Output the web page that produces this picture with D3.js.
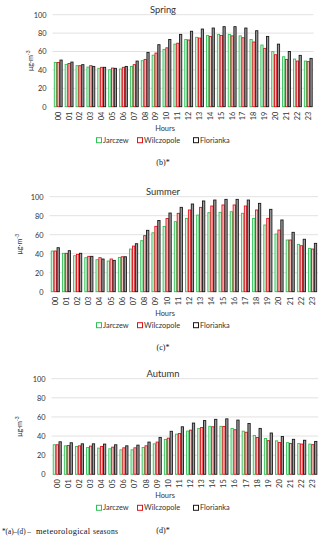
<!DOCTYPE html>
<html>
<head>
<meta charset="utf-8">
<script src="https://cdn.jsdelivr.net/npm/d3@7"></script>
<style>
  body { margin: 0; background: #fff; }
  svg { display: block; }
</style>
</head>
<body>
<svg id="chart" width="325" height="550"></svg>
<script>
var hours = ['00','01','02','03','04','05','06','07','08','09','10','11',
	'12','13','14','15','16','17','18','19','20','21','22','23'];
var stations = ['Jarczew', 'Wilczopole', 'Florianka'];
var yTicks = [0, 20, 40, 60, 80, 100];

var springJarczew    = [48,46,44.6,43,41.7,40.2,41,43.8,50,56,62.3,68,73,75.4,77.5,78.6,78.6,77,73,67,59.8,54.3,51.8,49.6];
var springWilczopole = [48,47,44.6,44.6,42.8,42,42.8,45.7,51.4,58.3,64,69,72.5,74.6,76.4,77.5,77,75,70.3,63.4,56.5,51.4,49.6,49];
var springFlorianka  = [50.7,48.5,45.7,43.8,42.8,41.7,43.8,49.6,59,67.4,73,78.6,82,84.4,85.5,87,87,85.5,82.6,76.4,68,60,55.8,52.5];

var summerJarczew    = [42.8,40.4,37.9,35.8,33.7,32.3,36.1,44.9,53.7,62,68.6,73.7,77.2,80.7,83.2,83.5,84.2,82.5,77.2,70.2,60.7,54.4,49.8,45.6];
var summerWilczopole = [42.8,40.4,39.3,37.2,35.8,34.4,36.8,48,59,68.8,77,82.5,86,88.8,90.2,91.3,91.3,90.2,86,77.2,64.9,54.4,48.4,44.9];
var summerFlorianka  = [46.3,43.2,40.4,37.2,34.4,33,36.8,50.5,64.6,75,82.8,88.8,92.3,95.5,96.5,97.2,97.2,96.5,93,86.7,75.5,62.5,55.2,50.9];

var autumnJarczew    = [30.9,29.8,29.1,28,27.4,26.7,25.6,25.6,28,31.9,36.5,42,45.2,48,50.2,50.2,48,45.1,40.7,37.4,35,33.1,32.2,31.6];
var autumnWilczopole = [30.9,30.2,29.8,29.5,29.1,28.4,27.7,27.7,29.8,33.7,37.8,42.7,46.2,49,49.7,50,46.6,44,38.5,35.2,33.2,32.2,31.6,31];
var autumnFlorianka  = [34,33,31.9,31.9,31.6,30.9,29.8,30.5,33.7,38.6,45,49.7,53.6,56.2,57.5,58,56.7,53.2,48,43.2,39.6,36.6,35.6,34.4];

var stroke = ['#2fbf55', '#e3121b', '#1a1a1a'];
var fill = ['#d2f3da', '#f7c2c2', '#9c9c9c'];

var svg = d3.select('#chart');

var panels = [
	{ title: 'Spring', series: [springJarczew, springWilczopole, springFlorianka],
	  x0: 52.6, x1: 313.5, top: 14.7, bottom: 106.7, yTitleX: 30, caption: '(b)*' },
	{ title: 'Summer', series: [summerJarczew, summerWilczopole, summerFlorianka],
	  x0: 49.5, x1: 318, top: 196.7, bottom: 291.7, yTitleX: 19, caption: '(c)*' },
	{ title: 'Autumn', series: [autumnJarczew, autumnWilczopole, autumnFlorianka],
	  x0: 51.5, x1: 318.2, top: 378.7, bottom: 474.3, yTitleX: 19, caption: '(d)*' }
];

var sans = 'Lato, "Open Sans", sans-serif';
var serif = '"Liberation Serif", "DejaVu Serif", serif';

panels.forEach(function (p) {

	var g = svg.append('g');

	var x = d3.scaleBand()
		.domain(hours)
		.range([p.x0, p.x1])
		.paddingInner(0.22)
		.paddingOuter(0.11);

	var xs = d3.scaleBand()
		.domain(d3.range(3))
		.range([0, x.bandwidth()]);

	var y = d3.scaleLinear()
		.domain([0, 100])
		.range([p.bottom, p.top]);

	// gridlines
	g.append('g')
		.selectAll('line')
		.data(yTicks.slice(1))
		.enter()
		.append('line')
		.attr('x1', p.x0)
		.attr('x2', p.x1)
		.attr('y1', function (d) { return y(d); })
		.attr('y2', function (d) { return y(d); })
		.attr('stroke', '#d9d9d9')
		.attr('stroke-width', 0.8);

	// y axis
	var yAxis = g.append('g')
		.attr('transform', 'translate(' + (p.x0 - 3) + ',0)')
		.call(d3.axisLeft(y).tickValues(yTicks).tickSize(0).tickPadding(3));
	yAxis.select('.domain').remove();
	yAxis.selectAll('text')
		.attr('font-family', sans)
		.attr('font-size', 7.4)
		.attr('fill', '#333');

	// bars
	p.series.forEach(function (values, si) {
		g.append('g')
			.selectAll('rect')
			.data(values)
			.enter()
			.append('rect')
			.attr('x', function (d, i) { return x(hours[i]) + xs(si) + 0.5; })
			.attr('y', function (d) { return y(d); })
			.attr('width', xs.bandwidth() - 0.6)
			.attr('height', function (d) { return y(0) - y(d); })
			.attr('fill', fill[si])
			.attr('stroke', stroke[si])
			.attr('stroke-width', 0.9);
	});

	// x axis
	var xAxis = g.append('g')
		.attr('transform', 'translate(0,' + p.bottom + ')')
		.call(d3.axisBottom(x).tickSize(0).tickPadding(0));
	xAxis.select('.domain').remove();
	xAxis.selectAll('text')
		.attr('font-family', sans)
		.attr('font-size', 7.4)
		.attr('fill', '#333')
		.attr('text-anchor', 'end')
		.attr('dy', '0.35em')
		.attr('transform', 'translate(0,5) rotate(-90)')
		.attr('y', 0)
		.attr('x', 0);

	// title
	g.append('text')
		.attr('x', 163)
		.attr('y', p.top - 1.5)
		.attr('text-anchor', 'middle')
		.attr('font-family', sans)
		.attr('font-size', 9.4)
		.attr('fill', '#333')
		.text(p.title);

	// y title
	var yt = g.append('text')
		.attr('transform', 'translate(' + p.yTitleX + ',' + ((p.top + p.bottom) / 2) + ') rotate(-90)')
		.attr('text-anchor', 'middle')
		.attr('dy', '0.35em')
		.attr('font-family', sans)
		.attr('font-size', 7.2)
		.attr('fill', '#333');
	yt.append('tspan').text('μg·m');
	yt.append('tspan').attr('font-size', 5).attr('dy', '-0.5em').text('-3');

	// axis title
	g.append('text')
		.attr('x', 165)
		.attr('y', p.bottom + 24)
		.attr('text-anchor', 'middle')
		.attr('font-family', sans)
		.attr('font-size', 7.4)
		.attr('fill', '#333')
		.text('Hours');

	// legend
	var legendX = [96.5, 137.5, 193.5];
	var leg = g.append('g')
		.selectAll('g')
		.data(stations)
		.enter()
		.append('g')
		.attr('transform', function (d, i) { return 'translate(' + legendX[i] + ',' + (p.bottom + 33.5) + ')'; });
	leg.append('rect')
		.attr('x', 0)
		.attr('y', -2.5)
		.attr('width', 5)
		.attr('height', 5)
		.attr('fill', '#fff')
		.attr('stroke', function (d, i) { return stroke[i]; })
		.attr('stroke-width', 1);
	leg.append('text')
		.attr('x', 6.5)
		.attr('dy', '0.35em')
		.attr('font-family', sans)
		.attr('font-size', 7.4)
		.attr('fill', '#333')
		.text(function (d) { return d; });

	// caption
	g.append('text')
		.attr('x', 163)
		.attr('y', p.bottom + 58.5)
		.attr('text-anchor', 'middle')
		.attr('font-family', serif)
		.attr('font-size', 8)
		.attr('fill', '#111')
		.text(p.caption);
});

// footnote
var foot = svg.append('text')
	.attr('y', 533.5)
	.attr('font-family', serif)
	.attr('fill', '#111');
foot.append('tspan').attr('x', 2).attr('font-size', 7.2).text('*(a)–(d) –');
foot.append('tspan').attr('x', 36).attr('font-size', 8.4).attr('letter-spacing', 0.3).text('meteorological');
foot.append('tspan').attr('font-size', 7.6).attr('letter-spacing', 0.3).attr('dx', 2.5).text('seasons');
</script>
</body>
</html>
